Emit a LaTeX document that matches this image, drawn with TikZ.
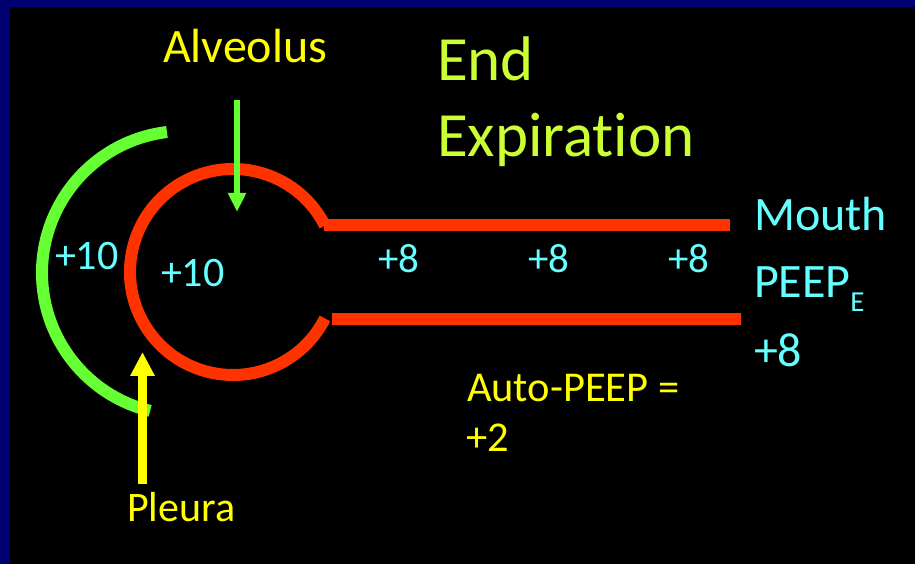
\documentclass[tikz,border=0pt]{standalone}
\usepackage{fontspec}
\setmainfont[Ligatures=NoCommon]{Carlito}
\usetikzlibrary{arrows.meta}
\definecolor{navy}{RGB}{0,0,112}
\definecolor{redline}{RGB}{255,51,0}
\definecolor{greenline}{RGB}{102,255,51}
\definecolor{titlegreen}{RGB}{204,255,51}
\definecolor{cyantext}{RGB}{102,255,255}
\definecolor{yellowtext}{RGB}{255,255,0}
\tikzset{
  lbl/.style={anchor=base west, inner sep=0pt, outer sep=0pt},
  cyanlbl/.style={lbl, text=cyantext},
  yellowlbl/.style={lbl, text=yellowtext},
  titlelbl/.style={lbl, text=titlegreen, font=\fontsize{63}{63}\selectfont},
  redstroke/.style={draw=redline, line width=12pt},
  greenstroke/.style={draw=greenline, line width=12pt},
}
\begin{document}
\begin{tikzpicture}[x=1pt,y=1pt]
\useasboundingbox (0,0) rectangle (915,564);
\fill[black] (0,0) rectangle (915,564);
\fill[navy] (0,0) rectangle (10,564);
\fill[navy] (0,557) rectangle (915,564);

% alveolus + airway
\draw[redstroke] (233,292) ++(26.8:103) arc[start angle=26.8, end angle=333.2, radius=103];
\coordinate (tubeTL) at (324,338.5);
\coordinate (tubeTR) at (730,338.5);
\coordinate (tubeBL) at (332,245);
\coordinate (tubeBR) at (741,245);
\draw[redstroke] (tubeTL) -- (tubeTR);
\draw[redstroke] (tubeBL) -- (tubeBR);

% pleura arc
\draw[greenstroke] (184,291) ++(96.9:142) arc[start angle=96.9, end angle=256.2, radius=142];

% labels
\node[yellowlbl, font=\fontsize{48}{48}\selectfont] (alv) at (163,501) {Alveolus};
\node[titlelbl] (end) at (437,483) {End};
\node[titlelbl] (exp) at (437,407) {Expiration};

\node[cyanlbl, font=\fontsize{42}{42}\selectfont] (pl10) at (55,294) {+10};
\node[cyanlbl, font=\fontsize{42}{42}\selectfont] (al10) at (161,277) {+10};
\node[cyanlbl, font=\fontsize{41}{41}\selectfont] (p8a) at (378,291) {+8};
\node[cyanlbl, font=\fontsize{41}{41}\selectfont] (p8b) at (528,291) {+8};
\node[cyanlbl, font=\fontsize{41}{41}\selectfont] (p8c) at (668,291) {+8};

\node[cyanlbl, font=\fontsize{48}{48}\selectfont] (mouth) at (754,333) {Mouth};
\node[cyanlbl, font=\fontsize{48}{48}\selectfont] (peep) at (754,266) {PEEP\raisebox{-14pt}{\fontsize{29}{29}\selectfont E}};
\node[cyanlbl, font=\fontsize{48}{48}\selectfont] (m8) at (754,197) {+8};

\node[yellowlbl, font=\fontsize{42.5}{42.5}\selectfont] (auto) at (467,162) {Auto-PEEP =};
\node[yellowlbl, font=\fontsize{42.5}{42.5}\selectfont] (auto2) at (466,112) {+2};
\node[yellowlbl, font=\fontsize{42}{42}\selectfont] (pleura) at (127,42) {Pleura};

% arrows
\coordinate (gA) at (237,464);
\coordinate (gB) at (237,352);
\draw[greenline, line width=6pt, -{Triangle[width=17pt,length=19pt]}] (gA) -- (gB);
\coordinate (yA) at (142.5,80);
\coordinate (yB) at (142.5,212);
\draw[yellowtext, line width=8.5pt, -{Triangle[width=23pt,length=24pt]}] (yA) -- (yB);
\end{tikzpicture}
\end{document}
